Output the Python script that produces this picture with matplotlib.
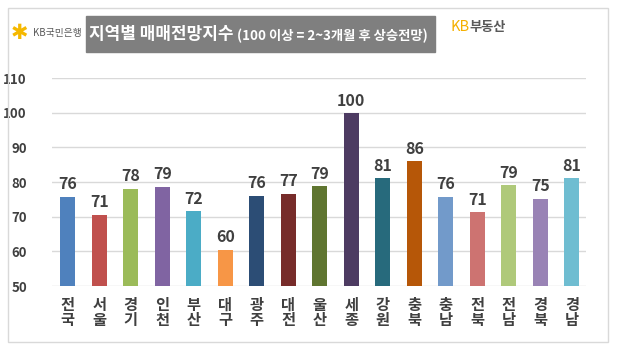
import matplotlib.pyplot as plt
from matplotlib.patches import Rectangle

plt.rcParams['font.family'] = ['Noto Sans CJK KR', 'DejaVu Sans']

regions = ["전국", "서울", "경기", "인천", "부산", "대구", "광주", "대전", "울산",
           "세종", "강원", "충북", "충남", "전북", "전남", "경북", "경남"]
values = [75.7, 70.6, 78.0, 78.6, 71.6, 60.4, 76.0, 76.6, 78.8,
          99.9, 81.1, 86.0, 75.7, 71.3, 79.1, 75.1, 81.1]
colors = ["#4F81BD", "#C0504D", "#9BBB59", "#8064A2", "#4BACC6", "#F79646",
          "#2C4D75", "#772C2A", "#5F7530", "#4D3B62", "#276A7C", "#B65708",
          "#729ACA", "#CD7371", "#AFC97A", "#9983B5", "#6FBDD1"]
yticks = [50, 60, 70, 80, 90, 100, 110]

fig = plt.figure(figsize=(6.19, 3.55), dpi=100)
W, H = 619, 355

# outer frame
fig.patches.append(Rectangle((8 / W, 1 - 342 / H), 600 / W, 334 / H,
                             transform=fig.transFigure, fill=False,
                             edgecolor="#D9D9D9", lw=1))

ax = fig.add_axes([52 / W, 1 - 286 / H, (586 - 52) / W, (286 - 78) / H])
x = range(len(regions))
ax.bar(x, values, width=0.48, color=colors, zorder=3)
for i, v in zip(x, values):
    ax.text(i, v + 1.3, f"{v:.0f}", ha="center", va="bottom", fontsize=11.5,
            fontweight="bold", color="#404040")

ax.set_ylim(50, 110)
ax.set_xlim(-0.5, len(regions) - 0.55)
ax.set_yticks(yticks)
ax.set_yticklabels([str(t) for t in yticks], fontsize=9.5, fontweight="bold",
                   color="#404040")
ax.set_xticks(list(x))
ax.set_xticklabels(["\n".join(r) for r in regions], fontsize=11,
                   fontweight="bold", color="#404040", linespacing=0.95)
ax.grid(axis="y", color="#D9D9D9", lw=1, zorder=0)
for s in ax.spines.values():
    s.set_visible(False)
ax.tick_params(length=0)
ax.tick_params(axis="x", pad=8)
ax.tick_params(axis="y", pad=18)

# title box
fig.patches.append(Rectangle((86 / W, 1 - 52 / H), (435 - 86) / W, 36 / H,
                             transform=fig.transFigure, color="#7F7F7F"))
fig.text(89 / W, 1 - 34 / H, "지역별 매매전망지수", fontsize=12.2, fontweight="bold",
         color="white", va="center", ha="left")
fig.text(237 / W, 1 - 36 / H, "(100 이상 = 2~3개월 후 상승전망)", fontsize=9.6,
         fontweight="bold", color="white", va="center", ha="left")

# logos
fig.text(11 / W, 1 - 33 / H, "✱", fontsize=15, color="#F5B800", va="center",
         ha="left", family=["DejaVu Sans"])
fig.text(33 / W, 1 - 33 / H, "KB국민은행", fontsize=7, color="#595959",
         va="center", ha="left")
fig.text(450 / W, 1 - 27 / H, "KB", fontsize=10.5, color="#F5B000",
         va="center", ha="left")
fig.text(469 / W, 1 - 27 / H, "부동산", fontsize=9.5, fontweight="bold",
         color="#595959", va="center", ha="left")

fig.savefig("out.png", dpi=100)
